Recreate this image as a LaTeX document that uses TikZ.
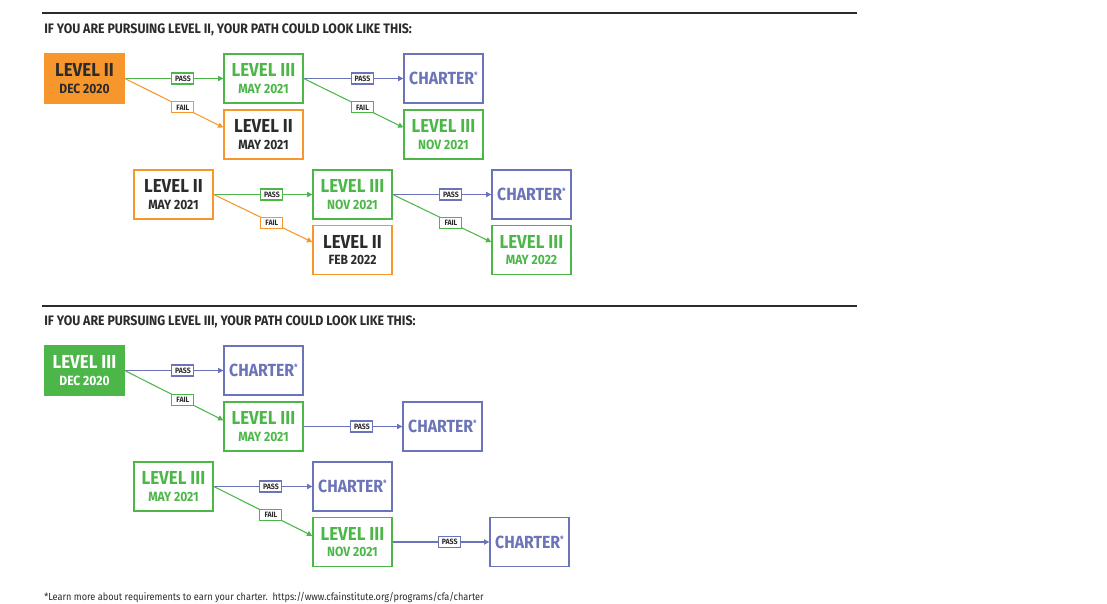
\documentclass[tikz,border=0pt]{standalone}
\usepackage{fontspec}
\setmainfont{Fira Sans}[FakeStretch=0.9]
\usetikzlibrary{arrows.meta}
\definecolor{cfaorange}{HTML}{F7962D}
\definecolor{cfagreen}{HTML}{4CB748}
\definecolor{cfablue}{HTML}{6B74B8}
\definecolor{cfadark}{HTML}{2B2B2B}
\newcommand{\lvl}[2]{{\fontsize{10.7}{10.4}\selectfont #1}\\[-2.6pt]{\fontsize{7.6}{9}\selectfont #2}}
\newcommand{\charter}{{\fontsize{10}{10}\selectfont CHARTER\raisebox{3.5pt}{\fontsize{5}{5}\selectfont *}}}
\begin{document}
\begin{tikzpicture}[x=0.02cm, y=-0.02cm,
    box/.style={draw, line width=0.8pt, fill=white, minimum width=1.58cm, minimum height=0.98cm, align=center, inner sep=0pt, font=\bfseries},
    lvtwo/.style={box, draw=cfaorange, text=cfadark},
    lvtwonow/.style={box, draw=cfaorange, fill=cfaorange, text=cfadark},
    lvthree/.style={box, draw=cfagreen, text=cfagreen},
    lvthreenow/.style={box, draw=cfagreen, fill=cfagreen, text=white},
    chbox/.style={box, draw=cfablue, text=cfablue},
    tag/.style={draw, fill=white, line width=0.6pt, text=cfadark, font=\fontsize{4.4}{4.4}\selectfont\bfseries, minimum width=0.44cm, minimum height=0.22cm, inner sep=0pt},
    link/.style={line width=0.6pt, -{Triangle[length=3pt,width=3pt]}},
    head/.style={anchor=base west, inner sep=0pt, text=cfadark, font=\fontsize{7.8}{8}\selectfont\bfseries}]
    \useasboundingbox[fill=white] (0,0) rectangle (1107,604);

    % 第一部分 Level II
    \draw[line width=1.7pt, cfadark] (42,13) -- (857,13);
    \node[head] (headtwo) at (44,34) {IF YOU ARE PURSUING LEVEL II, YOUR PATH COULD LOOK LIKE THIS:};
    \begin{scope}
        \node[lvtwonow] (a1) at (84.5,78.5) {\lvl{LEVEL II}{DEC 2020}};
        \node[lvthree] (a2) at (263.5,78.5) {\lvl{LEVEL III}{MAY 2021}};
        \node[chbox] (a3) at (443.5,78.5) {\charter};
        \node[lvtwo] (a4) at (263.5,134.5) {\lvl{LEVEL II}{MAY 2021}};
        \node[lvthree] (a5) at (443.5,134.5) {\lvl{LEVEL III}{NOV 2021}};
        \draw[link, cfagreen] (a1.east) -- node[tag, draw=cfagreen, pos=0.59] {PASS} (a2.west);
        \draw[link, cfaorange] (a1.east) -- node[tag, draw=cfaorange, pos=0.59] {FAIL} ([yshift=4pt]a4.west);
        \draw[link, cfablue] (a2.east) -- node[tag, draw=cfablue, pos=0.59] {PASS} (a3.west);
        \draw[link, cfagreen] (a2.east) -- node[tag, draw=cfagreen, pos=0.59] {FAIL} ([yshift=4pt]a5.west);
    \end{scope}
    \begin{scope}
        \node[lvtwo] (b1) at (173.5,194.5) {\lvl{LEVEL II}{MAY 2021}};
        \node[lvthree] (b2) at (352.5,194.5) {\lvl{LEVEL III}{NOV 2021}};
        \node[chbox] (b3) at (531.5,194.5) {\charter};
        \node[lvtwo] (b4) at (352.5,250) {\lvl{LEVEL II}{FEB 2022}};
        \node[lvthree] (b5) at (531.5,250) {\lvl{LEVEL III}{MAY 2022}};
        \draw[link, cfagreen] (b1.east) -- node[tag, draw=cfagreen, pos=0.59] {PASS} (b2.west);
        \draw[link, cfaorange] (b1.east) -- node[tag, draw=cfaorange, pos=0.59] {FAIL} ([yshift=4.5pt]b4.west);
        \draw[link, cfablue] (b2.east) -- node[tag, draw=cfablue, pos=0.59] {PASS} (b3.west);
        \draw[link, cfagreen] (b2.east) -- node[tag, draw=cfagreen, pos=0.59] {FAIL} ([yshift=4.5pt]b5.west);
    \end{scope}

    % 第二部分 Level III
    \draw[line width=1.7pt, cfadark] (42,306) -- (857,306);
    \node[head] (headthree) at (44,326) {IF YOU ARE PURSUING LEVEL III, YOUR PATH COULD LOOK LIKE THIS:};
    \begin{scope}
        \node[lvthreenow] (c1) at (84.5,370.5) {\lvl{LEVEL III}{DEC 2020}};
        \node[chbox] (c2) at (263.5,370.5) {\charter};
        \node[lvthree] (c3) at (263.5,426.5) {\lvl{LEVEL III}{MAY 2021}};
        \node[chbox] (c4) at (442.5,426.5) {\charter};
        \draw[link, cfablue] (c1.east) -- node[tag, draw=cfablue, pos=0.59] {PASS} (c2.west);
        \draw[link, cfagreen] (c1.east) -- node[tag, draw=cfagreen, pos=0.59] {FAIL} ([yshift=3.5pt]c3.west);
        \draw[link, cfablue] (c3.east) -- node[tag, draw=cfablue, pos=0.59] {PASS} (c4.west);
    \end{scope}
    \begin{scope}
        \node[lvthree] (d1) at (173.5,486.5) {\lvl{LEVEL III}{MAY 2021}};
        \node[chbox] (d2) at (352.5,486.5) {\charter};
        \node[lvthree] (d3) at (352.5,542) {\lvl{LEVEL III}{NOV 2021}};
        \node[chbox] (d4) at (529.5,542) {\charter};
        \draw[link, cfablue] (d1.east) -- node[tag, draw=cfablue, pos=0.58] {PASS} (d2.west);
        \draw[link, cfagreen] (d1.east) -- node[tag, draw=cfagreen, pos=0.58] {FAIL} ([yshift=3.5pt]d3.west);
        \draw[link, cfablue] (d3.east) -- node[tag, draw=cfablue, pos=0.59] {PASS} (d4.west);
    \end{scope}

    % 脚注
    \node[anchor=base west, text=cfadark, font=\fontsize{5.8}{6}\selectfont, inner sep=0pt] (note) at (44,601)
        {*Learn more about requirements to earn your charter.\ \ https://www.cfainstitute.org/programs/cfa/charter};
\end{tikzpicture}
\end{document}
